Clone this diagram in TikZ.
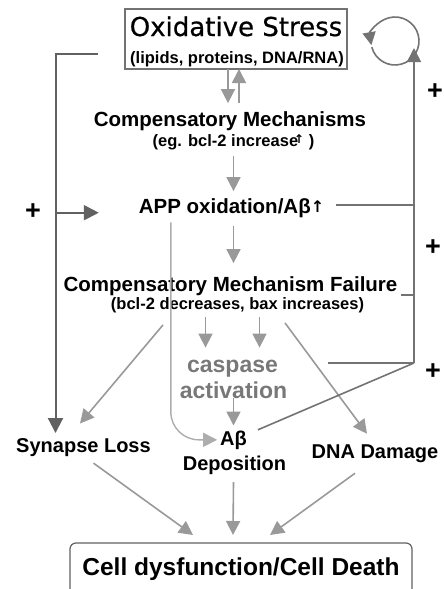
\documentclass[tikz,border=0pt]{standalone}
\usepackage{fontspec}
\setmainfont{Liberation Sans}
\newfontfamily\titlefont[FakeBold=0.6]{DejaVu Sans}
\newfontfamily\arrowfont{DejaVu Sans}
\usetikzlibrary{arrows.meta}
\definecolor{arrowgray}{gray}{0.6}
\definecolor{linegray}{gray}{0.45}
\definecolor{darkgray}{gray}{0.38}
\definecolor{textgray}{gray}{0.47}
\definecolor{curvegray}{gray}{0.68}

\begin{document}
\begin{tikzpicture}
            [x=1pt,y=-1pt,
             every node/.style={inner sep=0pt,outer sep=0pt},
             lbl/.style={anchor=base,font=\fontsize{20.5}{24}\selectfont\bfseries},
             sublbl/.style={anchor=base,font=\fontsize{16.5}{20}\selectfont\bfseries},
             small/.style={anchor=base,font=\fontsize{20}{24}\selectfont\bfseries},
             plus/.style={font=\fontsize{27}{30}\selectfont\bfseries},
             garrow/.style={draw=arrowgray,line width=1.6pt,-{Triangle[length=14pt,width=14pt]}},
             darrow/.style={draw=darkgray,line width=2pt,-{Triangle[length=15pt,width=15pt]}},
             cline/.style={draw=curvegray,line width=1.4pt,rounded corners=28pt,-{Triangle[length=14pt,width=14pt]}},
             rline/.style={draw=linegray,line width=1.6pt}]
            \useasboundingbox (0,0) rectangle (444,589);
            \clip (0,0) rectangle (444,589);

            % boxes and labels
            \node[draw=linegray,line width=1.2pt,minimum width=222pt,minimum height=60pt] (stress) at (236,39) {};
            \node[anchor=base,font=\titlefont\fontsize{26}{30}\selectfont] (stresstitle) at (236,36) {Oxidative Stress};
            \node[sublbl] (stresssub) at (237,63) {(lipids, proteins, DNA/RNA)};
            \node[lbl] (comp) at (230,126) {Compensatory Mechanisms};
            \node[sublbl] (compsub) at (233.5,146) {(eg. bcl-2 increase\kern-4pt\raisebox{3pt}{\arrowfont\bfseries\fontsize{12}{12}\selectfont ↑}\ )};
            \node[lbl] (app) at (231.5,213) {APP oxidation/Aβ\raisebox{1pt}{\arrowfont\bfseries\fontsize{16}{16}\selectfont ↑}};
            \node[lbl] (fail) at (230.5,291) {Compensatory Mechanism Failure};
            \node[sublbl] (failsub) at (237.5,309) {(bcl-2 decreases, bax increases)};
            \node[anchor=base,text=textgray,font=\fontsize{23}{26}\selectfont\bfseries] (casp) at (232.5,372) {caspase};
            \node[anchor=base,text=textgray,font=\fontsize{23}{26}\selectfont\bfseries] (activ) at (233.5,398) {activation};
            \node[small] (syn) at (83.5,452) {Synapse Loss};
            \node[small] (abeta) at (233.5,445) {Aβ};
            \node[small] (dep) at (234.5,470) {Deposition};
            \node[small] (dna) at (375,458) {DNA Damage};
            \node[draw=darkgray,line width=1.2pt,rounded corners=6pt,minimum width=342pt,minimum height=52pt] (death) at (241,569) {};
            \node[anchor=base,font=\fontsize{24.5}{28}\selectfont\bfseries] (deathtext) at (241,575) {Cell dysfunction/Cell Death};

            \node[plus] (p1) at (33,212) {+};
            \node[plus] (p2) at (435,92) {+};
            \node[plus] (p3) at (433,248) {+};
            \node[plus] (p4) at (433,372) {+};

            % main chain
            \draw[garrow] ([xshift=-8pt]stress.south) -- ([xshift=-2pt,yshift=8pt]comp.north);
            \draw[garrow] ([xshift=9pt,yshift=8pt]comp.north) -- ([xshift=3pt]stress.south);
            \draw[garrow,shorten <=7pt,shorten >=7pt] (compsub.south) -- (compsub.south |- app.north);
            \draw[garrow,shorten <=9pt,shorten >=13pt] ([xshift=2pt]app.south) -- ([xshift=2pt]app.south |- fail.north);
            \coordinate (c1) at ([xshift=-27pt,yshift=12pt]casp.north);
            \coordinate (c2) at ([xshift=27pt,yshift=12pt]casp.north);
            \draw[garrow,shorten <=5pt] (c1 |- failsub.south) -- (c1);
            \draw[garrow,shorten <=5pt] (c2 |- failsub.south) -- (c2);
            \draw[garrow] (activ.south) -- ([yshift=5pt]abeta.north);
            \draw[cline] ([xshift=32pt,yshift=-5pt]app.south west) |- ([xshift=-3pt]abeta.west);

            % branches from failure
            \draw[garrow] ([xshift=-74.5pt,yshift=-12.5pt]failsub.south) -- ([xshift=-3.5pt,yshift=14.5pt]syn.north);
            \draw[garrow] ([xshift=47.5pt,yshift=-10.5pt]failsub.south) -- ([xshift=-8pt,yshift=10.5pt]dna.north);

            % to cell death
            \draw[garrow] ([xshift=10pt,yshift=-7pt]syn.south) -- ([xshift=-48pt,yshift=8pt]death.north);
            \draw[garrow] ([xshift=-1pt,yshift=-8pt]dep.south) -- ([xshift=-8pt,yshift=8pt]death.north);
            \draw[garrow] ([xshift=-20pt,yshift=-11pt]dna.south) -- ([xshift=29pt,yshift=8pt]death.north);

            % left feedback
            \coordinate (stressl) at ([xshift=-27pt,yshift=-15pt]stress.west);
            \coordinate (lftx) at ([xshift=-28pt,yshift=5pt]syn.north);
            \coordinate (appin) at ([xshift=-40pt,yshift=-5pt]app.west);
            \draw[darrow] (stressl) -| (lftx);
            \draw[darrow] (appin -| lftx) -- (appin);

            % right feedback
            \coordinate (rcorner) at (414,363);
            \coordinate (loopc) at (395,41);
            \coordinate (looptip) at ([xshift=19pt,yshift=-7pt]loopc);
            \draw[rline,-{Triangle[length=14pt,width=14pt]}] (rcorner) -- (looptip);
            \draw[rline,-{Triangle[length=13pt,width=13pt]}] (loopc) ++(-195:24) arc[start angle=-195,end angle=-550,radius=24];
            \draw[rline] ([xshift=12pt,yshift=3pt]app.east) coordinate (appr) -- (appr -| rcorner);
            \draw[rline] ([xshift=4pt,yshift=-9.5pt]fail.east) coordinate (failr) -- (failr -| rcorner);
            \coordinate (caspr) at ([xshift=50pt]casp.east);
            \draw[rline] (caspr |- rcorner) -- (rcorner);
            \draw[rline] (rcorner) -- ([xshift=11pt,yshift=10pt]abeta.east);
        \end{tikzpicture}
\end{document}
